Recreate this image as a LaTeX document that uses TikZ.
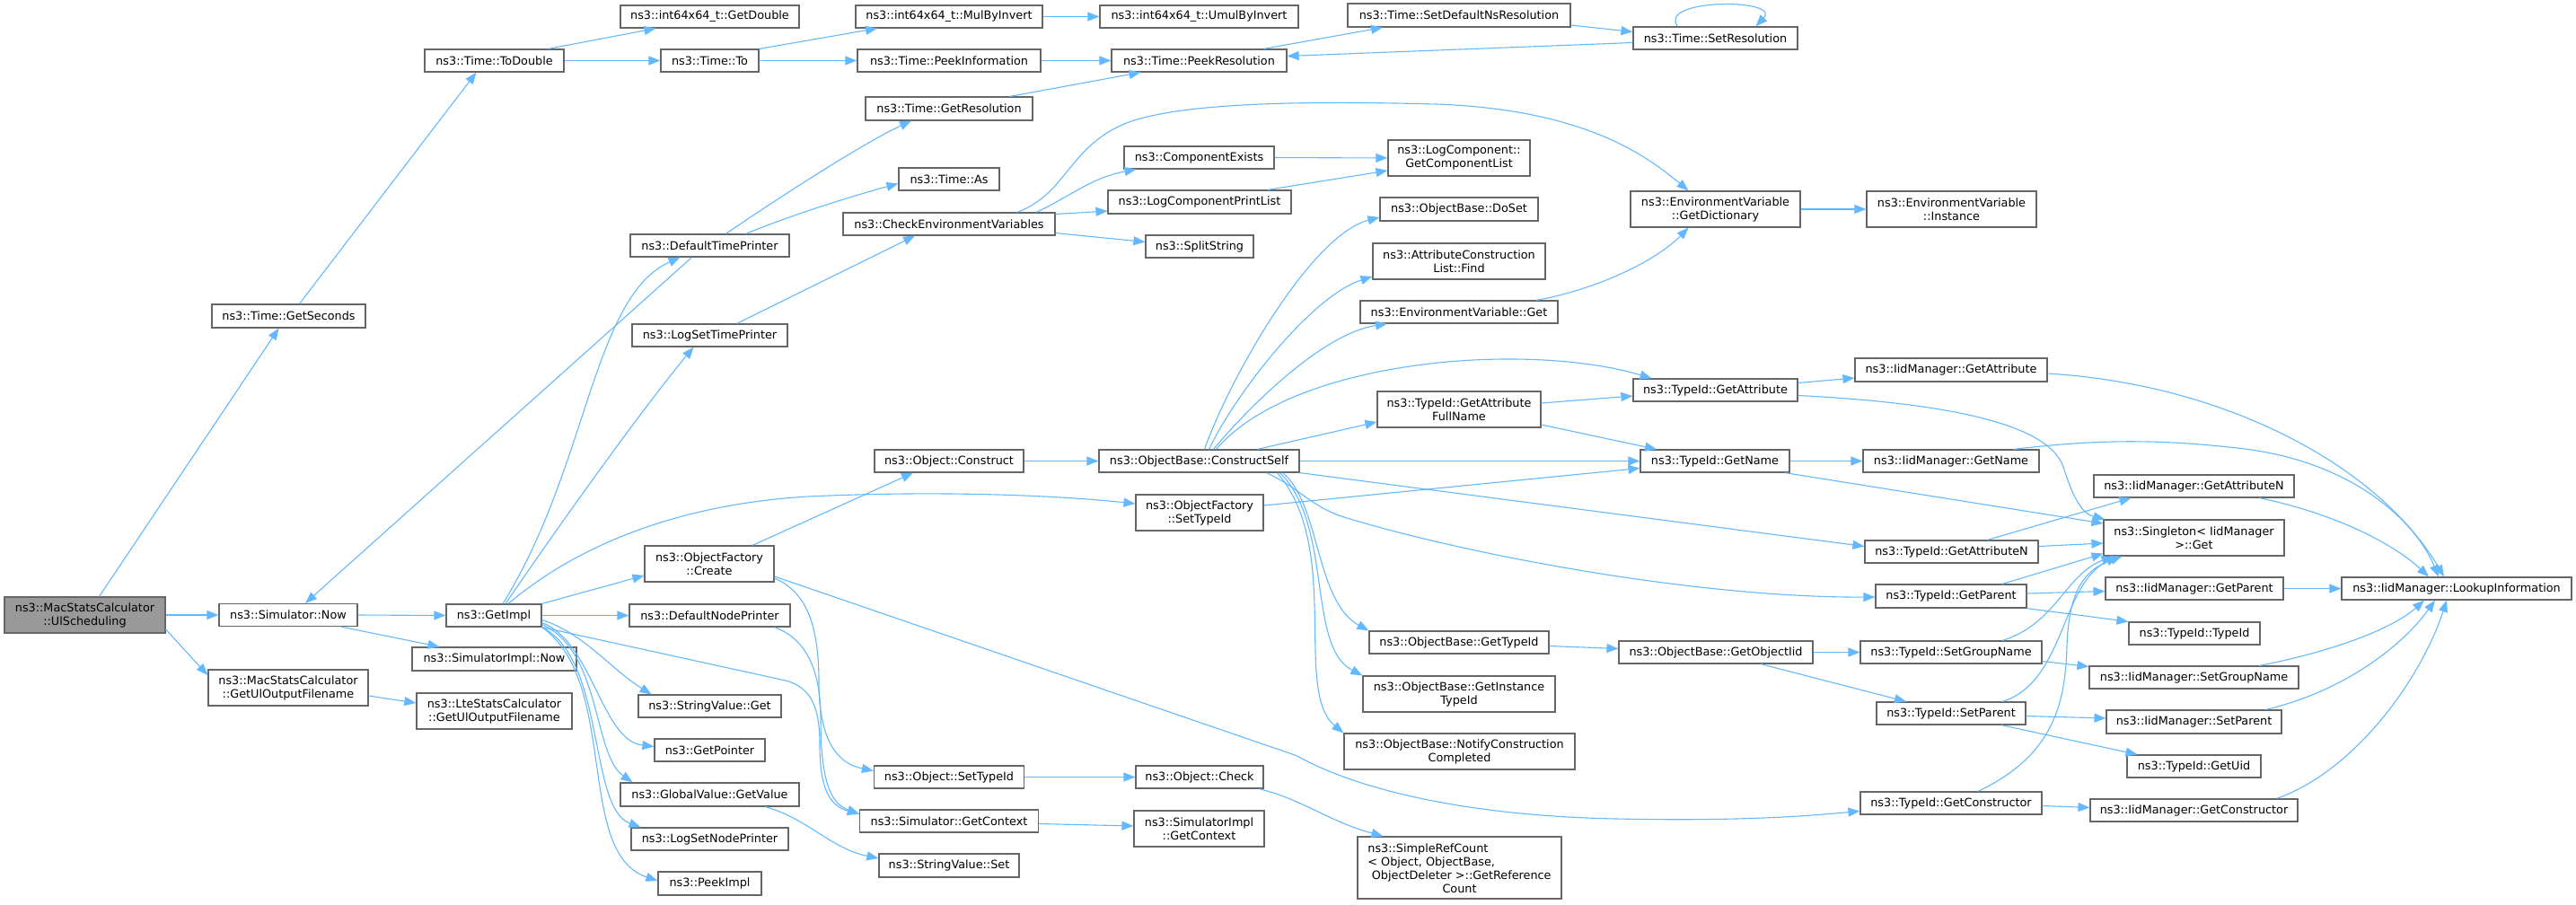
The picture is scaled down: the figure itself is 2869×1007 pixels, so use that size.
\documentclass[tikz,border=0pt]{standalone}
\usepackage{fontspec}
\setmainfont{DejaVu Sans}
\usetikzlibrary{arrows.meta}
\definecolor{edgec}{HTML}{63B8FF}
\definecolor{boxc}{HTML}{666666}
\definecolor{rootfill}{HTML}{999999}
\begin{document}
\begin{tikzpicture}[x=1pt,y=-1pt,
  box/.style={draw=boxc, line width=1.2pt, fill=white, inner sep=0pt, align=center,
    font=\fontsize{12.8}{15}\selectfont, text=black},
  nb/.style n args={2}{box, minimum width=#1pt, minimum height=#2pt},
  e/.style={draw=edgec, line width=1.1pt, -{Triangle[length=13pt,width=10pt]}}]
\useasboundingbox (0,0) rectangle (2869,1007);
% rank 0
\node[nb={179}{40}, fill=rootfill] (ul) at (94.5,685) {ns3::MacStatsCalculator\\::UlScheduling};
% rank 1
\node[nb={171}{26}] (getsec) at (321.5,352) {ns3::Time::GetSeconds};
\node[nb={154}{25}] (simnow) at (321,685) {ns3::Simulator::Now};
\node[nb={178}{40}] (macout) at (321,766) {ns3::MacStatsCalculator\\::GetUlOutputFilename};
% rank 2
\node[nb={155}{25}] (todouble) at (550.5,67.5) {ns3::Time::ToDouble};
\node[nb={106}{25}] (getimpl) at (550,685.5) {ns3::GetImpl};
\node[nb={183}{26}] (simimplnow) at (550.5,734) {ns3::SimulatorImpl::Now};
\node[nb={173}{40}] (lteout) at (550.5,792) {ns3::LteStatsCalculator\\::GetUlOutputFilename};
% rank 3
\node[nb={199}{25}] (getdouble) at (790.5,18.5) {ns3::int64x64\_t::GetDouble};
\node[nb={109}{25}] (timeto) at (790.5,67.5) {ns3::Time::To};
\node[nb={177}{25}] (dtp) at (790.5,273.5) {ns3::DefaultTimePrinter};
\node[nb={173}{25}] (lstp) at (790.5,373.5) {ns3::LogSetTimePrinter};
\node[nb={144}{40}] (ofcreate) at (790,628) {ns3::ObjectFactory\\::Create};
\node[nb={179}{25}] (dnp) at (790.5,685.5) {ns3::DefaultNodePrinter};
\node[nb={159}{25}] (svget) at (790.5,786.5) {ns3::StringValue::Get};
\node[nb={123}{25}] (getptr) at (790.5,835.5) {ns3::GetPointer};
\node[nb={199}{26}] (gvget) at (790.5,885) {ns3::GlobalValue::GetValue};
\node[nb={175}{25}] (lsnp) at (790.5,934.5) {ns3::LogSetNodePrinter};
\node[nb={115}{26}] (peekimpl) at (790.5,984) {ns3::PeekImpl};
% rank 4
\node[nb={208}{25}] (mulinv) at (1057,18.5) {ns3::int64x64\_t::MulByInvert};
\node[nb={204}{25}] (peekinfo) at (1057,67.5) {ns3::Time::PeekInformation};
\node[nb={186}{26}] (getres) at (1057,121) {ns3::Time::GetResolution};
\node[nb={112}{25}] (timeas) at (1057,199.5) {ns3::Time::As};
\node[nb={236}{25}] (checkenv) at (1057,249.5) {ns3::CheckEnvironmentVariables};
\node[nb={166}{25}] (objconstruct) at (1057,513.5) {ns3::Object::Construct};
\node[nb={167}{25}] (objsettypeid) at (1057,865.5) {ns3::Object::SetTypeId};
\node[nb={199}{25}] (simgetctx) at (1057,914.5) {ns3::Simulator::GetContext};
\node[nb={156}{26}] (svset) at (1057,964) {ns3::StringValue::Set};
% rank 5
\node[nb={221}{25}] (umulinv) at (1335.5,18.5) {ns3::int64x64\_t::UmulByInvert};
\node[nb={195}{25}] (peekres) at (1335.5,67.5) {ns3::Time::PeekResolution};
\node[nb={167}{25}] (compexists) at (1335.5,175.5) {ns3::ComponentExists};
\node[nb={204}{26}] (lcpl) at (1336,225) {ns3::LogComponentPrintList};
\node[nb={120}{25}] (splitstr) at (1336,274.5) {ns3::SplitString};
\node[nb={223}{25}] (constructself) at (1335.5,513.5) {ns3::ObjectBase::ConstructSelf};
\node[nb={142}{40}] (ofsettypeid) at (1336,571) {ns3::ObjectFactory\\::SetTypeId};
\node[nb={142}{25}] (objcheck) at (1336,865.5) {ns3::Object::Check};
\node[nb={145}{40}] (simimplctx) at (1335.5,923) {ns3::SimulatorImpl\\::GetContext};
% rank 6
\node[nb={248}{26}] (setdefns) at (1625,17) {ns3::Time::SetDefaultNsResolution};
\node[nb={158}{40}] (getcomplist) at (1625,176) {ns3::LogComponent::\\GetComponentList};
\node[nb={176}{26}] (doset) at (1625,233) {ns3::ObjectBase::DoSet};
\node[nb={192}{40}] (acfind) at (1625,291) {ns3::AttributeConstruction\\List::Find};
\node[nb={220}{25}] (envget) at (1625,347.5) {ns3::EnvironmentVariable::Get};
\node[nb={182}{40}] (getattrfull) at (1625,456) {ns3::TypeId::GetAttribute\\FullName};
\node[nb={200}{25}] (obgettypeid) at (1625,715.5) {ns3::ObjectBase::GetTypeId};
\node[nb={214}{40}] (getinsttypeid) at (1625,773) {ns3::ObjectBase::GetInstance\\TypeId};
\node[nb={257}{40}] (notify) at (1625.5,837) {ns3::ObjectBase::NotifyConstruction\\Completed};
\node[nb={227}{69}] (simpleref) at (1625.5,966.5) {\begin{tabular}[b]{@{}l@{}}ns3::SimpleRefCount\\< Object, ObjectBase,\\\hspace{0.35em}ObjectDeleter >::GetReference\end{tabular}\\Count};
% rank 7
\node[nb={183}{25}] (setres) at (1910.5,42.5) {ns3::Time::SetResolution};
\node[nb={189}{40}] (getdict) at (1910.5,233) {ns3::EnvironmentVariable\\::GetDictionary};
\node[nb={183}{25}] (tgetattr) at (1910.5,434.5) {ns3::TypeId::GetAttribute};
\node[nb={166}{25}] (tgetname) at (1910,513.5) {ns3::TypeId::GetName};
\node[nb={216}{25}] (getobjiid) at (1911,726.5) {ns3::ObjectBase::GetObjectIid};
% rank 8
\node[nb={189}{40}] (envinst) at (2173.5,233) {ns3::EnvironmentVariable\\::Instance};
\node[nb={214}{26}] (iidgetattr) at (2173,412) {ns3::IidManager::GetAttribute};
\node[nb={196}{25}] (iidgetname) at (2173,513.5) {ns3::IidManager::GetName};
\node[nb={193}{25}] (tgetattrn) at (2173.5,614.5) {ns3::TypeId::GetAttributeN};
\node[nb={168}{26}] (tgetparent) at (2173,664) {ns3::TypeId::GetParent};
\node[nb={202}{25}] (tsetgroup) at (2173,726.5) {ns3::TypeId::SetGroupName};
\node[nb={166}{25}] (tsetparent) at (2173,794.5) {ns3::TypeId::SetParent};
\node[nb={202}{25}] (tgetctor) at (2173,894.5) {ns3::TypeId::GetConstructor};
% rank 9
\node[nb={223}{25}] (iidgetattrn) at (2443.5,541.5) {ns3::IidManager::GetAttributeN};
\node[nb={201}{40}] (singleton) at (2443.5,599) {ns3::Singleton< IidManager\\>::Get};
\node[nb={198}{25}] (iidgetparent) at (2444,655.5) {ns3::IidManager::GetParent};
\node[nb={146}{25}] (ttypeid) at (2444,705.5) {ns3::TypeId::TypeId};
\node[nb={233}{25}] (iidsetgroup) at (2443.5,754.5) {ns3::IidManager::SetGroupName};
\node[nb={195}{26}] (iidsetparent) at (2443.5,804) {ns3::IidManager::SetParent};
\node[nb={149}{25}] (tgetuid) at (2443.5,853.5) {ns3::TypeId::GetUid};
\node[nb={231}{25}] (iidgetctor) at (2443.5,902.5) {ns3::IidManager::GetConstructor};
% rank 10
\node[nb={256}{25}] (lookup) at (2736,655.5) {ns3::IidManager::LookupInformation};

% ---------- edges ----------
\draw[e] ([xshift=16pt]ul.north) -- ([xshift=-11pt]getsec.south);
\draw[e] (ul.east) -- (simnow.west);
\draw[e] ([yshift=-16pt]ul.east) -- ([yshift=14pt]macout.west);
\draw[e] ([xshift=12pt]getsec.north) -- ([xshift=-20pt]todouble.south);
\draw[e] ([xshift=60pt]todouble.north) -- ([xshift=-60pt]getdouble.south);
\draw[e] (todouble.east) -- (timeto.west);
\draw[e] (timeto.north east) -- ([xshift=-80pt]mulinv.south);
\draw[e] (timeto.east) -- (peekinfo.west);
\draw[e] (mulinv.east) -- (umulinv.west);
\draw[e] (peekinfo.east) -- (peekres.west);
\draw[e] ([xshift=68pt]getres.north) -- ([xshift=-65pt]peekres.south);
\draw[e] ([xshift=72pt]peekres.north) -- ([xshift=-85pt]setdefns.south);
\draw[e] ([yshift=-11pt]setdefns.east) -- ([yshift=7pt]setres.west);
\draw[e] ([xshift=-42pt]setres.north) .. controls (1845,-2) and (1985,-2) .. ([xshift=45pt]setres.north);
\draw[e] ([yshift=-5pt]setres.west) -- ([yshift=5pt]peekres.east);
\draw[e] (simnow.east) -- (getimpl.west);
\draw[e] ([xshift=59pt]simnow.south) -- ([xshift=-61pt]simimplnow.north);
\draw[e] ([yshift=-9pt]macout.east) -- ([yshift=9pt]lteout.west);
\draw[e] ([xshift=-20pt]dtp.south) -- ([xshift=19pt]simnow.north);
\draw[e] ([xshift=10pt]getimpl.north) .. controls (655,520) and (660,330) .. ([xshift=-33pt]dtp.south);
\draw[e] ([xshift=13pt]getimpl.north) .. controls (640,560) and (720,450) .. ([xshift=-18pt]lstp.south);
\draw[e] ([xshift=16pt]getimpl.north) .. controls (640,610) and (750,562) .. (900,553) .. controls (1050,546) and (1180,552) .. ([yshift=10pt]ofsettypeid.west);
\draw[e] (getimpl.north east) -- ([yshift=-13pt]ofcreate.west);
\draw[e] (getimpl.east) -- (dnp.west);
\draw[e] ([yshift=-5pt]getimpl.east) .. controls (650,705) and (680,745) .. ([xshift=-65pt]svget.north);
\draw[e] ([yshift=-8pt]getimpl.east) .. controls (660,715) and (670,825) .. ([yshift=4pt]getptr.west);
\draw[e] ([yshift=-10pt]getimpl.east) .. controls (670,725) and (660,840) .. ([xshift=-86pt]gvget.north);
\draw[e] (getimpl.south east) .. controls (675,735) and (655,900) .. ([xshift=-77pt]lsnp.north);
\draw[e] (getimpl.south east) .. controls (690,760) and (640,950) .. ([yshift=3pt]peekimpl.west);
\draw[e] (getimpl.south east) -- (875,758) .. controls (905,766) and (913,790) .. (913,830) .. controls (913,880) and (925,898) .. ([yshift=8pt]simgetctx.west);
\draw[e] ([xshift=72pt]dnp.south) .. controls (900,712) and (914,750) .. (914,800) .. controls (914,870) and (925,895) .. ([yshift=8pt]simgetctx.west);
\draw[e] ([yshift=-16pt]ofcreate.east) .. controls (900,660) and (912,700) .. (912,760) .. controls (912,820) and (930,850) .. ([yshift=7pt]objsettypeid.west);
\draw[e] ([xshift=48pt]ofcreate.north) -- ([xshift=-40pt]objconstruct.south);
\draw[e] ([yshift=-14pt]ofcreate.east) -- (1445,842) .. controls (1490,868) and (1600,908) .. (1800,912) .. controls (1950,915) and (2020,908) .. ([yshift=-9pt]tgetctor.west);
\draw[e] (objconstruct.east) -- (constructself.west);
\draw[e] (objsettypeid.east) -- (objcheck.west);
\draw[e] ([yshift=-3pt]simgetctx.east) -- ([yshift=3pt]simimplctx.west);
\draw[e] ([xshift=62pt]gvget.south) .. controls (900,912) and (925,945) .. ([yshift=8pt]svset.west);
\draw[e] ([xshift=18pt]dtp.north) .. controls (860,225) and (960,160) .. ([xshift=-42pt]getres.south);
\draw[e] ([xshift=40pt]dtp.north) .. controls (880,240) and (950,218) .. ([yshift=-5pt]timeas.west);
\draw[e] ([xshift=30pt]lstp.north) -- ([xshift=-38pt]checkenv.south);
\draw[e] ([xshift=97pt]checkenv.north) .. controls (1190,220) and (1215,198) .. ([xshift=-70pt]compexists.south);
\draw[e] ([yshift=11pt]checkenv.east) -- ([yshift=-10pt]lcpl.west);
\draw[e] ([yshift=-10pt]checkenv.east) -- ([yshift=5pt]splitstr.west);
\draw[e] ([xshift=76pt]checkenv.north) .. controls (1190,215) and (1190,160) .. (1260,135) .. controls (1330,112) and (1480,113) .. (1600,116) .. controls (1760,122) and (1830,170) .. ([xshift=-30pt]getdict.north);
\draw[e] (compexists.east) -- (getcomplist.west);
\draw[e] ([xshift=76pt]lcpl.north) -- ([yshift=-14pt]getcomplist.west);
\draw[e] (getdict.east) -- (envinst.west);
\draw[e] ([xshift=86pt]envget.north) .. controls (1780,322) and (1845,290) .. ([xshift=-30pt]getdict.south);
% ConstructSelf
\draw[e] ([xshift=6pt]constructself.north) .. controls (1370,420) and (1460,262) .. ([yshift=-9pt]doset.west);
\draw[e] ([xshift=11pt]constructself.north) .. controls (1375,440) and (1460,330) .. ([yshift=-17pt]acfind.west);
\draw[e] ([xshift=16pt]constructself.north) .. controls (1385,460) and (1470,372) .. ([xshift=-80pt]envget.south);
\draw[e] ([xshift=19pt]constructself.north) .. controls (1440,400) and (1700,380) .. ([xshift=-71pt]tgetattr.north);
\draw[e] ([xshift=65pt]constructself.north) -- ([yshift=-14pt]getattrfull.west);
\draw[e] (constructself.east) -- (tgetname.west);
\draw[e] (constructself.south east) -- ([yshift=6pt]tgetattrn.west);
\draw[e] ([xshift=75pt]constructself.south) .. controls (1450,545) and (1460,565) .. (1500,577) .. controls (1650,622) and (1900,666) .. ([yshift=-1pt]tgetparent.west);
\draw[e] ([xshift=93pt]constructself.south) .. controls (1470,560) and (1465,670) .. (obgettypeid.north west);
\draw[e] ([xshift=90pt]constructself.south) .. controls (1485,585) and (1455,720) .. (getinsttypeid.north west);
\draw[e] ([xshift=87pt]constructself.south) .. controls (1495,610) and (1440,770) .. (notify.north west);
\draw[e] ([yshift=8pt]ofsettypeid.east) -- ([yshift=-8pt]tgetname.west);
\draw[e] ([yshift=7pt]getattrfull.east) -- ([yshift=-6.5pt]tgetattr.west);
\draw[e] ([yshift=-17pt]getattrfull.east) -- ([xshift=-65pt]tgetname.north);
\draw[e] ([yshift=8pt]tgetattr.east) -- ([yshift=-9pt]iidgetattr.west);
\draw[e] ([yshift=-6pt]tgetattr.east) .. controls (2150,448) and (2280,468) .. (2298,520) .. controls (2308,552) and (2318,572) .. ([xshift=2pt]singleton.north west);
\draw[e] (tgetname.east) -- (iidgetname.west);
\draw[e] ([xshift=78pt]tgetname.south) -- ([yshift=16pt]singleton.west);
\draw[e] ([xshift=40pt]tgetattrn.north) -- ([xshift=-70pt]iidgetattrn.south);
\draw[e] ([yshift=6pt]tgetattrn.east) -- ([yshift=-6pt]singleton.west);
\draw[e] ([xshift=57pt]tgetparent.north) -- ([yshift=3pt]singleton.south west);
\draw[e] ([yshift=3pt]tgetparent.east) -- ([yshift=-3pt]iidgetparent.west);
\draw[e] (tgetparent.south east) -- (ttypeid.north west);
\draw[e] ([yshift=-4pt]obgettypeid.east) -- ([yshift=4pt]getobjiid.west);
\draw[e] (getobjiid.east) -- (tsetgroup.west);
\draw[e] ([xshift=50pt]getobjiid.south) -- ([xshift=-50pt]tsetparent.north);
\draw[e] ([xshift=57pt]tsetgroup.north) .. controls (2290,695) and (2300,640) .. ([xshift=-90pt]singleton.south);
\draw[e] ([yshift=-10pt]tsetgroup.east) -- ([yshift=12pt]iidsetgroup.west);
\draw[e] ([xshift=57pt]tsetparent.north) .. controls (2300,760) and (2295,650) .. ([xshift=-85pt]singleton.south);
\draw[e] ([yshift=-3pt]tsetparent.east) -- ([yshift=4pt]iidsetparent.west);
\draw[e] ([xshift=56pt]tsetparent.south) -- ([xshift=-63pt]tgetuid.north);
\draw[e] ([xshift=30pt]tgetctor.north) .. controls (2290,840) and (2300,780) .. (2302,720) .. controls (2304,660) and (2320,635) .. ([xshift=-80pt]singleton.south);
\draw[e] ([yshift=-3pt]tgetctor.east) -- ([yshift=3pt]iidgetctor.west);
\draw[e] ([yshift=-4pt]iidgetattr.east) .. controls (2480,428) and (2650,520) .. ([xshift=-14pt]lookup.north);
\draw[e] ([xshift=70pt]iidgetname.north) .. controls (2330,490) and (2400,488) .. (2500,500) .. controls (2620,515) and (2690,580) .. ([xshift=-20pt]lookup.north);
\draw[e] ([xshift=73pt]iidgetattrn.south) .. controls (2600,572) and (2665,605) .. ([xshift=-31pt]lookup.north);
\draw[e] (iidgetparent.east) -- (lookup.west);
\draw[e] ([xshift=73pt]iidsetgroup.north) .. controls (2600,725) and (2665,700) .. ([xshift=-36pt]lookup.south);
\draw[e] ([xshift=80pt]iidsetparent.north) .. controls (2610,770) and (2675,720) .. ([xshift=-24pt]lookup.south);
\draw[e] ([xshift=92pt]iidgetctor.north) .. controls (2620,860) and (2695,760) .. ([xshift=-11pt]lookup.south);
\draw[e] ([xshift=66pt]objcheck.south) .. controls (1450,890) and (1480,915) .. ([xshift=-85pt]simpleref.north);
\end{tikzpicture}
\end{document}
